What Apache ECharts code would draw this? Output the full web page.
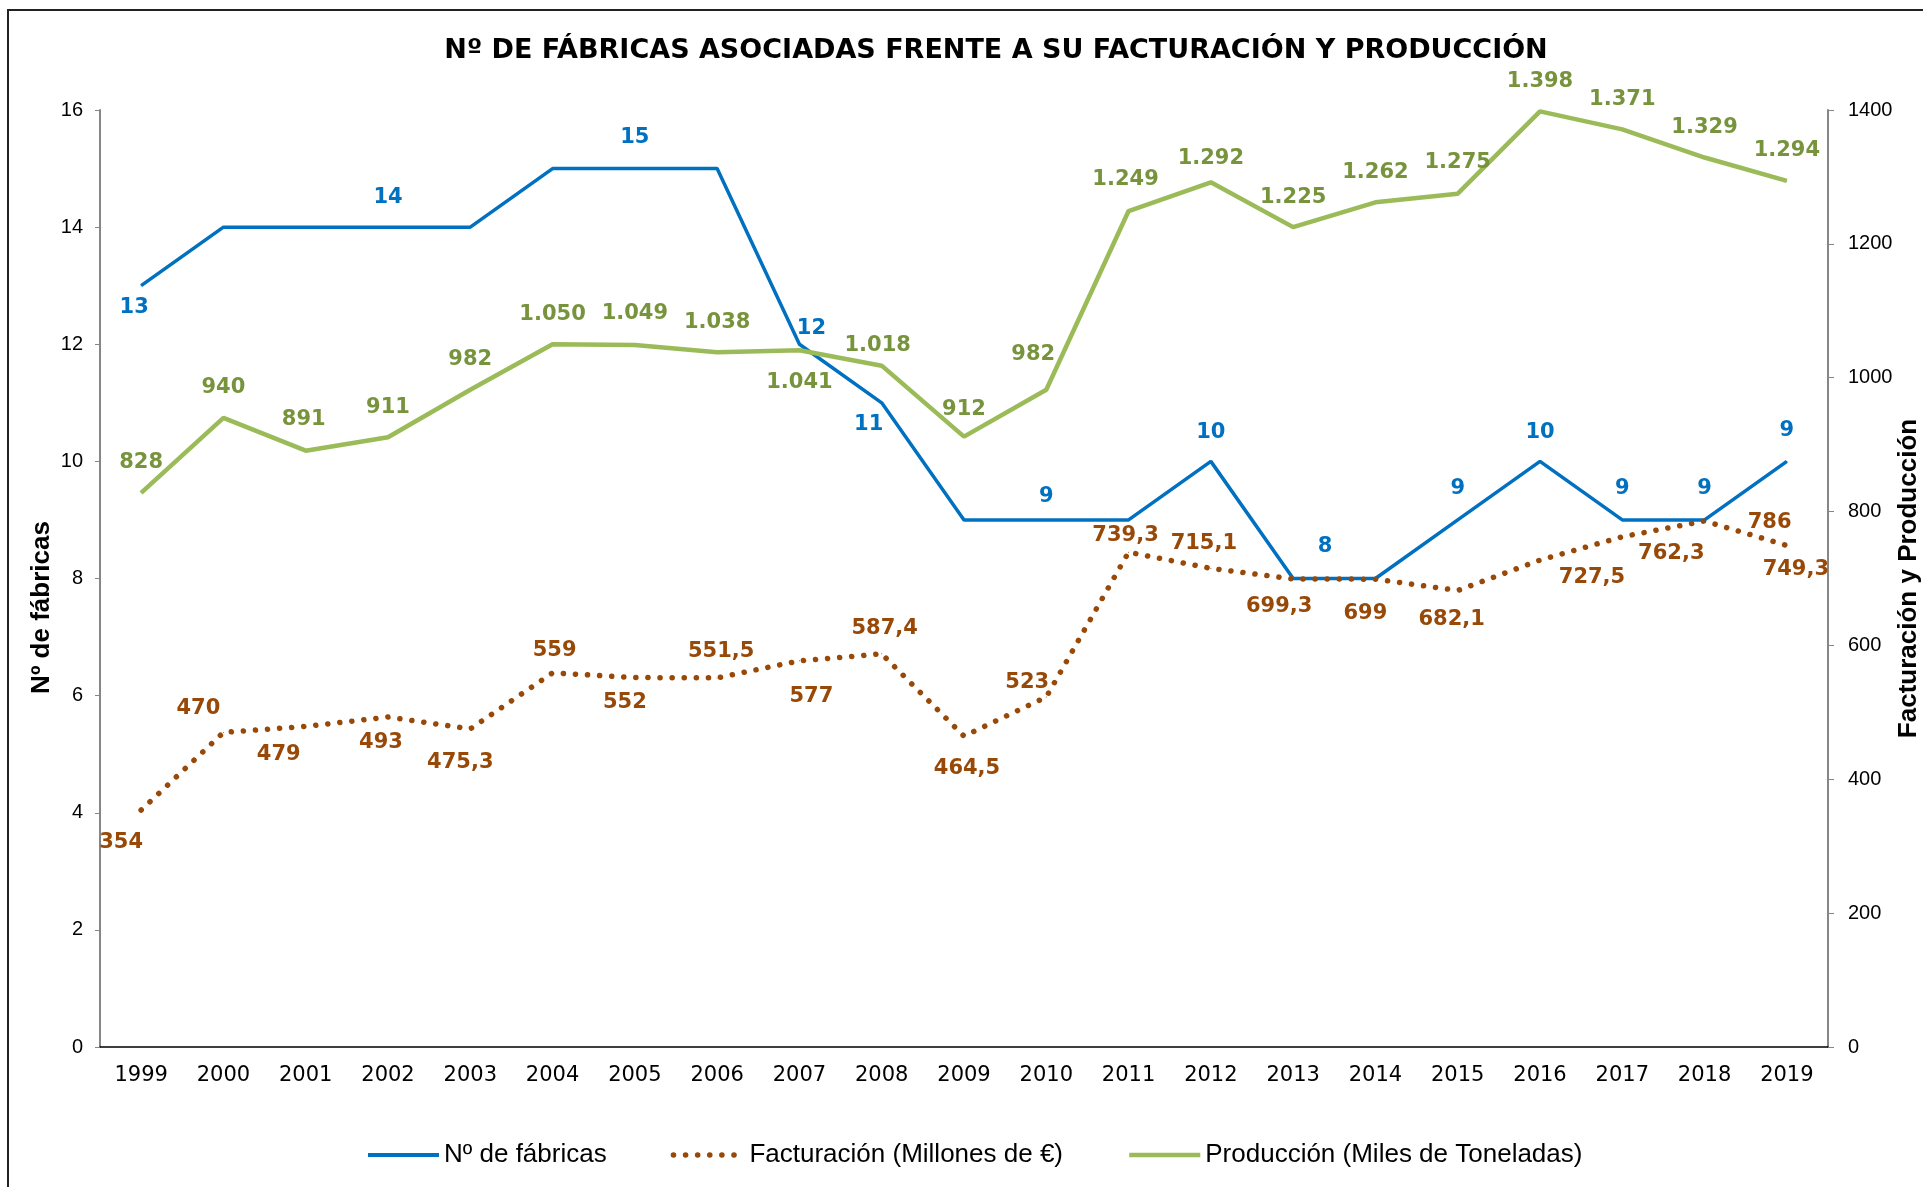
<!DOCTYPE html>
<html>
<head>
<meta charset="utf-8">
<title>Nº de fábricas asociadas</title>
<script src="https://cdn.jsdelivr.net/npm/echarts/dist/echarts.min.js"></script>
<style>
  html, body { margin: 0; padding: 0; background: #fff; }
  #chart { width: 1923px; height: 1187px; }
</style>
</head>
<body>
<div id="chart"></div>
<script>
// data
const years = ['1999', '2000', '2001', '2002', '2003', '2004', '2005', '2006', '2007', '2008', '2009',
  '2010', '2011', '2012', '2013', '2014', '2015', '2016', '2017', '2018', '2019'];

const fabricas = [13, 14, 14, 14, 14, 15, 15, 15, 12, 11, 9, 9, 9, 10, 8, 8, 9, 10, 9, 9, 10];
const facturacion = [354, 470, 479, 493, 475.3, 559, 552, 551.5, 577, 587.4, 464.5,
  523, 739.3, 715.1, 699.3, 699, 682.1, 727.5, 762.3, 786, 749.3];
const produccion = [828, 940, 891, 911, 982, 1050, 1049, 1038, 1041, 1018, 912,
  982, 1249, 1292, 1225, 1262, 1275, 1398, 1371, 1329, 1294];

// label texts as printed on the chart (empty = no label)
const fabricasLabels = ['13', '', '', '14', '', '', '15', '', '12', '11', '', '9', '', '10', '8', '', '9', '10', '9', '9', '9'];
const facturacionLabels = ['354', '470', '479', '493', '475,3', '559', '552', '551,5', '577', '587,4', '464,5',
  '523', '739,3', '715,1', '699,3', '699', '682,1', '727,5', '762,3', '786', '749,3'];
const produccionLabels = ['828', '940', '891', '911', '982', '1.050', '1.049', '1.038', '1.041', '1.018', '912',
  '982', '1.249', '1.292', '1.225', '1.262', '1.275', '1.398', '1.371', '1.329', '1.294'];

// where each label sits relative to its point (placement only)
const fabricasOffsets = [[-7, 22], [0, 0], [0, 0], [0, -30], [0, 0], [0, 0], [0, -31], [0, 0], [12, -16], [-13, 22], [0, 0],
  [0, -23], [0, 0], [0, -29], [32, -32], [0, 0], [0, -31], [0, -29], [0, -31], [0, -31], [0, -31]];
const facturacionOffsets = [[-20, 32], [-25, -24], [-27, 28], [-7, 26], [-10, 34], [2, -22], [-10, 25], [4, -26], [12, 36], [3, -25], [3, 32],
  [-19, -14], [-3, -17], [-7, -25], [-14, 28], [-10, 34], [-6, 29], [52, 17], [49, 17], [65, 2], [9, 24]];
const produccionOffsets = [[0, -30], [0, -30], [-2, -31], [0, -30], [0, -30], [0, -30], [0, -31], [0, -30], [0, 32], [-4, -20], [0, -27],
  [-13, -35], [-3, -32], [0, -24], [0, -30], [0, -30], [0, -31], [0, -30], [0, -30], [0, -30], [0, -30]];

const BLUE = '#0070C0';
const BROWN = '#984807';
const GREEN = '#9BBB59';
const GREEN_TEXT = '#77933C';

const labelFont = {
  fontFamily: 'DejaVu Sans',
  fontWeight: 'bold',
  fontSize: 21
};

function buildData(values, offsets) {
  return values.map((v, i) => ({ value: v, label: { offset: offsets[i] } }));
}

function lineSeries(name, values, texts, offsets, axisIndex, color, textColor, lineStyle) {
  return {
    type: 'line',
    name: name,
    yAxisIndex: axisIndex,
    data: buildData(values, offsets),
    symbol: 'circle',
    symbolSize: 1,
    showSymbol: true,
    showAllSymbol: true,
    itemStyle: { color: color },
    lineStyle: Object.assign({ color: color }, lineStyle),
    label: Object.assign({
      show: true,
      position: 'inside',
      color: textColor,
      formatter: p => texts[p.dataIndex]
    }, labelFont),
    emphasis: { disabled: true }
  };
}

const chart = echarts.init(document.getElementById('chart'));

const axisLabelY = { fontFamily: 'Liberation Sans, Arial', fontSize: 20, color: '#000', formatter: v => String(v) };
const axisNameStyle = { fontFamily: 'Liberation Sans, Arial', fontWeight: 'bold', fontSize: 26, color: '#000' };

const options = {
  animation: false,
  backgroundColor: '#fff',
  title: {
    text: 'Nº DE FÁBRICAS ASOCIADAS FRENTE A SU FACTURACIÓN Y PRODUCCIÓN',
    left: 991,
    textAlign: 'center',
    top: 32,
    textStyle: {
      fontFamily: 'DejaVu Sans',
      fontWeight: 'bold',
      fontSize: 27,
      color: '#000'
    }
  },
  graphic: [{
    type: 'rect',
    shape: { x: 8, y: 10, width: 1940, height: 1200 },
    style: { fill: null, stroke: '#222', lineWidth: 2 },
    silent: true
  }],
  grid: {
    left: 100,
    right: 95,
    top: 110,
    bottom: 140,
    containLabel: false,
    outerBoundsMode: 'none'
  },
  legend: {
    left: 361,
    top: 1137,
    itemWidth: 71,
    itemHeight: 14,
    itemGap: 64,
    itemStyle: { opacity: 0 },
    textStyle: { fontFamily: 'Liberation Sans, Arial', fontSize: 26, color: '#000' },
    data: [
      { name: 'Nº de fábricas', lineStyle: { width: 4 } },
      { name: 'Facturación (Millones de €)', lineStyle: { width: 5.5 } },
      { name: 'Producción (Miles de Toneladas)', lineStyle: { width: 4.5 } }
    ]
  },
  xAxis: {
    type: 'category',
    data: years,
    boundaryGap: true,
    axisLine: { lineStyle: { color: '#000', width: 1.5 } },
    axisTick: { alignWithLabel: true, length: 6, lineStyle: { color: '#000' } },
    axisLabel: { fontFamily: 'DejaVu Sans', fontSize: 21, color: '#000', margin: 18 },
    splitLine: { show: false }
  },
  yAxis: [{
    type: 'value',
    min: 0,
    max: 16,
    interval: 2,
    name: 'Nº de fábricas',
    nameLocation: 'middle',
    nameRotate: 90,
    nameGap: 45,
    nameMoveOverlap: false,
    nameTextStyle: Object.assign({ padding: [0, 58, 0, 0] }, axisNameStyle),
    axisLine: { show: true, lineStyle: { color: '#868686', width: 2 } },
    axisTick: { show: true, length: 5, lineStyle: { color: '#868686' } },
    axisLabel: Object.assign({ margin: 17 }, axisLabelY),
    splitLine: { show: false }
  }, {
    type: 'value',
    min: 0,
    max: 1400,
    interval: 200,
    position: 'right',
    name: 'Facturación y Producción',
    nameLocation: 'middle',
    nameRotate: 90,
    nameGap: 68,
    nameMoveOverlap: false,
    nameTextStyle: axisNameStyle,
    axisLine: { show: true, lineStyle: { color: '#868686', width: 2 } },
    axisTick: { show: true, length: 6, lineStyle: { color: '#868686' } },
    axisLabel: Object.assign({ margin: 20 }, axisLabelY),
    splitLine: { show: false }
  }],
  series: [
    lineSeries('Nº de fábricas', fabricas, fabricasLabels, fabricasOffsets, 0, BLUE, BLUE,
      { width: 3.5 }),
    lineSeries('Facturación (Millones de €)', facturacion, facturacionLabels, facturacionOffsets, 1, BROWN, BROWN,
      { width: 5.5, type: [0.1, 12], cap: 'round' }),
    lineSeries('Producción (Miles de Toneladas)', produccion, produccionLabels, produccionOffsets, 1, GREEN, GREEN_TEXT,
      { width: 4.5 })
  ]
};

chart.setOption(options);
</script>
</body>
</html>
